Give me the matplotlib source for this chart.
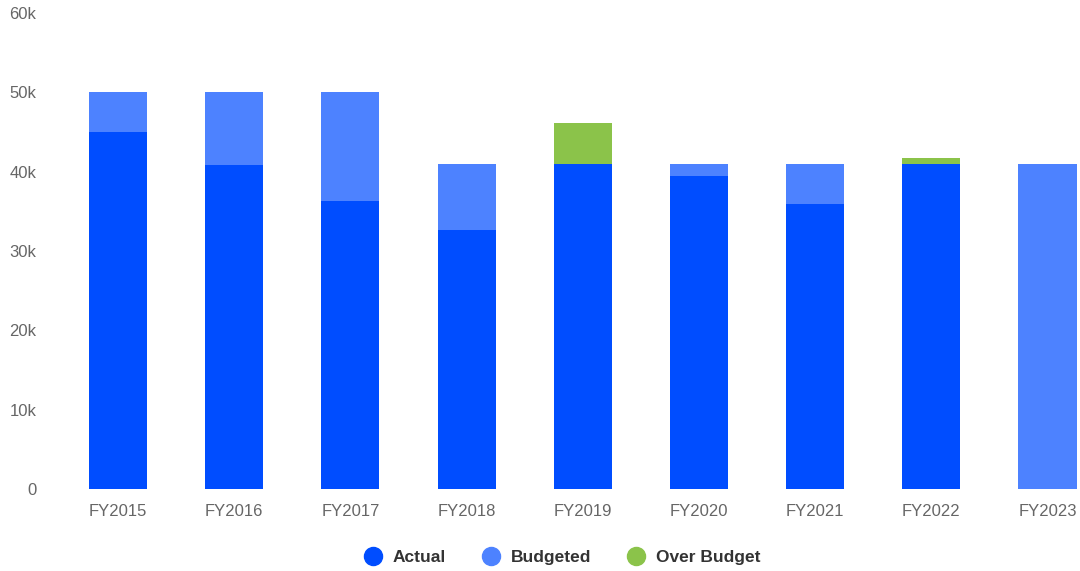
import numpy as np
import matplotlib.pyplot as plt
from matplotlib.lines import Line2D

years = ['FY2015', 'FY2016', 'FY2017', 'FY2018', 'FY2019', 'FY2020', 'FY2021', 'FY2022', 'FY2023']
actual = np.array([45.0, 40.8, 36.3, 32.6, 46.1, 39.4, 35.9, 41.7, 0.0]) * 1000
budget = np.array([50, 50, 50, 41, 41, 41, 41, 41, 41]) * 1000

# segments: actual capped at budget, remaining budget, overspend on top
within = np.minimum(actual, budget)
remaining = np.maximum(budget - actual, 0)
over = np.maximum(actual - budget, 0)

c_actual = '#004DFF'
c_budget = '#4D82FF'
c_over = '#8BC34A'

plt.rcParams['font.family'] = ['Liberation Sans', 'DejaVu Sans']

fig = plt.figure(figsize=(10.8, 5.71), dpi=100)
ax = fig.add_axes([60/1080, (571-489)/571, 1020/1080, (489-13)/571])

x = np.arange(len(years))
w = 0.5
ax.bar(x, within, w, color=c_actual)
ax.bar(x, remaining, w, bottom=within, color=c_budget)
ax.bar(x, over, w, bottom=within, color=c_over)

ax.set_xlim(-0.5, 8.28)
ax.set_ylim(0, 60000)
ax.set_yticks(np.arange(0, 60001, 10000))
ax.set_yticklabels(['0'] + [f'{v}k' for v in range(10, 61, 10)])
ax.set_xticks(x)
ax.set_xticklabels(years)
ax.tick_params(axis='y', length=0, pad=17, labelsize=12, labelcolor='#666666')
ax.tick_params(axis='x', length=0, pad=11, labelsize=12, labelcolor='#666666')
for s in ax.spines.values():
    s.set_visible(False)

handles = [Line2D([], [], marker='o', ls='', markersize=13, color=c) for c in (c_actual, c_budget, c_over)]
leg = fig.legend(handles, ['Actual', 'Budgeted', 'Over Budget'], loc='center', bbox_to_anchor=(558/1080, 1-557/571),
                 ncol=3, frameon=False, handletextpad=0.15, columnspacing=1.6,
                 prop={'weight': 'bold', 'size': 12.5})
for t in leg.get_texts():
    t.set_color('#333333')

fig.savefig('out.png', dpi=100)
